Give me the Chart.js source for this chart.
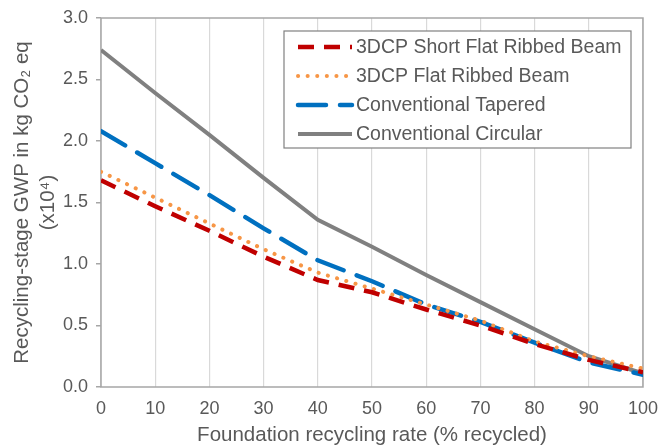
<!DOCTYPE html>
<html>
<head>
<meta charset="utf-8">
<script src="https://cdn.jsdelivr.net/npm/chart.js@4.4.0/dist/chart.umd.min.js"></script>
<style>
  html, body { margin: 0; padding: 0; background: #fff; }
  #wrap { width: 659px; height: 448px; }
</style>
</head>
<body>
<div id="wrap"><canvas id="myChart" width="659" height="448"></canvas></div>
<script>
// recycling rates (% recycled)
const rates = [0, 10, 20, 30, 40, 50, 60, 70, 80, 90, 100];

// GWP in kg CO2 eq (x10^4)
const shortFlatRibbed = [1.68, 1.47, 1.27, 1.06, 0.87, 0.77, 0.63, 0.50, 0.35, 0.22, 0.12];
const flatRibbed      = [1.75, 1.54, 1.33, 1.12, 0.93, 0.80, 0.67, 0.54, 0.37, 0.25, 0.15];
const convTapered     = [2.08, 1.82, 1.56, 1.29, 1.03, 0.86, 0.67, 0.53, 0.36, 0.20, 0.10];
const convCircular    = [2.74, 2.39, 2.05, 1.70, 1.36, 1.14, 0.91, 0.69, 0.47, 0.25, 0.11];

const yTicks = [0, 0.5, 1.0, 1.5, 2.0, 2.5, 3.0];

const FONT = '"Liberation Sans", Arial, sans-serif';
const toPoints = arr => arr.map((v, i) => ({ x: rates[i], y: v }));

const data = {
    datasets: [
        {
            label: '3DCP Short Flat Ribbed Beam',
            data: toPoints(shortFlatRibbed),
            borderColor: '#C00000',
            borderWidth: 4.5,
            borderDash: [16, 10],
            borderCapStyle: 'butt',
        },
        {
            label: '3DCP Flat Ribbed Beam',
            data: toPoints(flatRibbed),
            borderColor: '#F79646',
            borderWidth: 4,
            borderDash: [0.1, 9.5],
            borderCapStyle: 'round',
        },
        {
            label: 'Conventional Tapered',
            data: toPoints(convTapered),
            borderColor: '#0070C0',
            borderWidth: 4.5,
            borderDash: [28, 14],
            borderCapStyle: 'round',
        },
        {
            label: 'Conventional Circular',
            data: toPoints(convCircular),
            borderColor: '#808080',
            borderWidth: 4,
            borderCapStyle: 'butt',
        }
    ]
};

// plot frame drawn under the lines
const framePlugin = {
    id: 'frame',
    beforeDatasetsDraw(chart) {
        const { ctx, chartArea: a } = chart;
        ctx.save();
        ctx.strokeStyle = '#a6a6a6';
        ctx.lineWidth = 1.5;
        ctx.strokeRect(a.left, a.top, a.right - a.left, a.bottom - a.top);
        ctx.restore();
    }
};

// boxed legend inside the plot, top right
const boxLegend = {
    id: 'boxLegend',
    afterDraw(chart) {
        const ctx = chart.ctx;
        const x0 = 284, y0 = 31, w = 347, h = 117;
        ctx.save();
        ctx.fillStyle = '#ffffff';
        ctx.fillRect(x0, y0, w, h);
        ctx.strokeStyle = '#808080';
        ctx.lineWidth = 1.2;
        ctx.strokeRect(x0, y0, w, h);
        ctx.font = '19.5px ' + FONT;
        ctx.textBaseline = 'middle';
        ctx.fillStyle = '#595959';
        chart.data.datasets.forEach((ds, i) => {
            const y = 47 + i * 29;
            ctx.save();
            ctx.strokeStyle = ds.borderColor;
            ctx.lineWidth = ds.borderWidth;
            ctx.lineCap = ds.borderCapStyle || 'butt';
            ctx.setLineDash(ds.borderDash || []);
            ctx.beginPath();
            ctx.moveTo(298, y);
            ctx.lineTo(352, y);
            ctx.stroke();
            ctx.restore();
            ctx.fillText(ds.label, 356, y + 1);
        });
        ctx.restore();
    }
};

const config = {
    type: 'line',
    data: data,
    options: {
        responsive: false,
        animation: false,
        layout: { padding: { top: 18, right: 16, left: 0, bottom: 0 } },
        elements: { point: { radius: 0 }, line: { tension: 0 } },
        plugins: {
            legend: { display: false },
            tooltip: { enabled: false }
        },
        scales: {
            x: {
                type: 'linear',
                min: 0,
                max: 100,
                afterFit: s => { s.height = 61; s.paddingLeft = 0; s.paddingRight = 0; },
                afterBuildTicks: s => { s.ticks = rates.map(v => ({ value: v })); },
                grid: { color: '#d9d9d9', lineWidth: 1.2, drawTicks: false },
                border: { display: false },
                ticks: {
                    padding: 11,
                    color: '#595959',
                    maxRotation: 0,
                    font: { size: 18, family: FONT }
                },
                title: {
                    display: true,
                    text: 'Foundation recycling rate (% recycled)',
                    color: '#595959',
                    padding: { top: 3, bottom: 0 },
                    font: { size: 20.5, family: FONT }
                }
            },
            y: {
                min: 0,
                max: 3,
                afterFit: s => { s.width = 101; s.paddingTop = 0; s.paddingBottom = 0; },
                afterBuildTicks: s => { s.ticks = yTicks.map(v => ({ value: v })); },
                grid: { drawOnChartArea: false, color: '#a6a6a6', tickLength: 5, lineWidth: 1.5 },
                border: { display: false },
                ticks: {
                    padding: 8,
                    color: '#595959',
                    callback: v => v.toFixed(1),
                    font: { size: 18, family: FONT }
                },
                title: {
                    display: true,
                    text: ['Recycling-stage GWP in kg CO\u2082 eq', '(x10\u2074)'],
                    color: '#595959',
                    padding: { top: 10, bottom: 0 },
                    font: { size: 20.5, family: FONT, lineHeight: 1.25 }
                }
            }
        }
    },
    plugins: [framePlugin, boxLegend]
};

const myChart = new Chart(document.getElementById('myChart'), config);
</script>
</body>
</html>
